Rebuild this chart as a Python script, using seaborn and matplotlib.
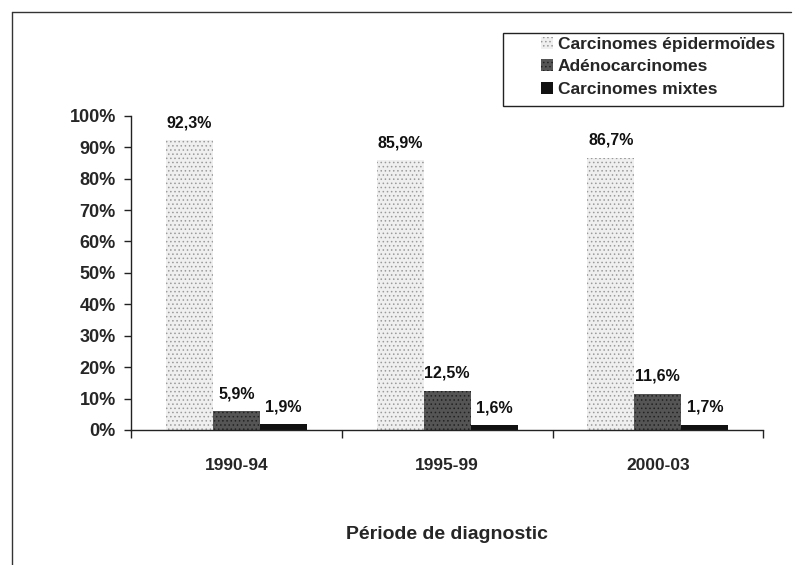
import matplotlib
matplotlib.use("Agg")
import matplotlib.pyplot as plt
import seaborn as sns
import pandas as pd
from matplotlib.lines import Line2D
from matplotlib.patches import Patch, Rectangle

periods = ["1990-94", "1995-99", "2000-03"]
types = ["Carcinomes épidermoïdes", "Adénocarcinomes", "Carcinomes mixtes"]
epidermoides = [92.3, 85.9, 86.7]
adeno = [5.9, 12.5, 11.6]
mixtes = [1.9, 1.6, 1.7]
labels_ep = ["92,3%", "85,9%", "86,7%"]
labels_ad = ["5,9%", "12,5%", "11,6%"]
labels_mx = ["1,9%", "1,6%", "1,7%"]
yticklabels = ["0%", "10%", "20%", "30%", "40%", "50%", "60%", "70%", "80%", "90%", "100%"]

rows = []
for i, p in enumerate(periods):
    rows.append((p, types[0], epidermoides[i]))
    rows.append((p, types[1], adeno[i]))
    rows.append((p, types[2], mixtes[i]))
df = pd.DataFrame(rows, columns=["periode", "type", "valeur"])

sns.set_theme(style="white")
plt.rcParams["font.family"] = ["Liberation Sans", "DejaVu Sans"]
plt.rcParams["hatch.linewidth"] = 0.6

fig = plt.figure(figsize=(7.95, 5.65), dpi=100)
ax = fig.add_axes([0.165, 0.239, 0.795, 0.556])

face = ["#efefef", "#555555", "#111111"]
hatchcol = ["#9a9a9a", "#222222", "#111111"]
hatches = ["....", "....", None]

sns.barplot(data=df, x="periode", y="valeur", hue="type", order=periods,
            hue_order=types, width=0.67, ax=ax, legend=False,
            palette=face, saturation=1)

for ci, cont in enumerate(ax.containers):
    for bar in cont:
        bar.set_facecolor(face[ci])
        bar.set_edgecolor(hatchcol[ci])
        bar.set_linewidth(0)
        if hatches[ci]:
            bar.set_hatch(hatches[ci])

all_labels = [labels_ep, labels_ad, labels_mx]
for ci, cont in enumerate(ax.containers):
    ax.bar_label(cont, labels=all_labels[ci], padding=7, fontsize=11.5,
                 fontweight="bold", color="#111111")

ax.set_ylim(0, 100)
ax.set_xlim(-0.5, 2.5)
ax.set_yticks(range(0, 101, 10))
ax.set_yticklabels(yticklabels, fontsize=13, fontweight="bold")
ax.tick_params(axis="y", which="major", left=True, length=5, width=1, color="#222222", pad=6)
ax.tick_params(axis="x", which="major", bottom=False, labelsize=12.5, pad=14)
for lab in ax.get_xticklabels():
    lab.set_fontweight("bold")
ax.set_xticks([-0.5, 0.5, 1.5, 2.5], minor=True)
ax.tick_params(axis="x", which="minor", bottom=True, length=6, width=1, color="#222222")

ax.set_ylabel("")
ax.set_xlabel("Période de diagnostic", fontsize=14, fontweight="bold", labelpad=38)
for s in ["top", "right"]:
    ax.spines[s].set_visible(False)
for s in ["left", "bottom"]:
    ax.spines[s].set_color("#222222")
    ax.spines[s].set_linewidth(1)

# legend box
fig.add_artist(Rectangle((0.633, 0.8124), 0.352, 0.129, transform=fig.transFigure,
                         facecolor="white", edgecolor="#222222", linewidth=1))
handles = [Patch(facecolor=face[i], edgecolor=hatchcol[i], hatch=hatches[i], linewidth=0)
           for i in range(3)]
leg = fig.legend(handles, types, loc="upper right", bbox_to_anchor=(0.975, 0.935),
                 frameon=False, fontsize=12.5, handlelength=0.7,
                 handleheight=0.7, handletextpad=0.3, borderpad=0.0, labelspacing=0.42,
                 borderaxespad=0)
for t in leg.get_texts():
    t.set_fontweight("bold")

fig.add_artist(Line2D([0.015, 0.995], [0.979, 0.979], transform=fig.transFigure,
                      color="#333333", linewidth=1))
fig.add_artist(Line2D([0.015, 0.015], [0.0, 0.979], transform=fig.transFigure,
                      color="#333333", linewidth=1))

fig.savefig("out.png", dpi=100)
